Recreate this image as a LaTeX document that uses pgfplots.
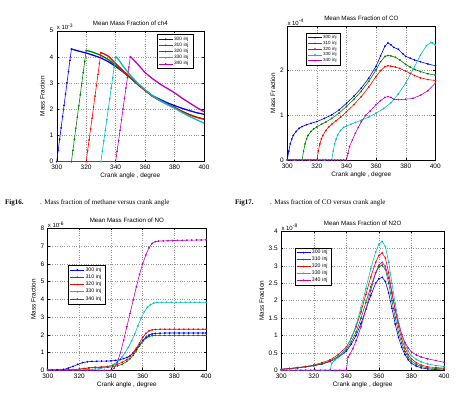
\documentclass[border=0pt]{standalone}
\usepackage{fontspec}
\setmainfont{Liberation Sans}
\newfontfamily\capfont{Liberation Serif}
\usepackage{pgfplots}
\pgfplotsset{compat=1.18}

\definecolor{mblue}{rgb}{0,0,1}
\definecolor{mgreen}{rgb}{0,0.5,0}
\definecolor{mred}{rgb}{1,0,0}
\definecolor{mcyan}{rgb}{0,0.75,0.75}
\definecolor{mmag}{rgb}{0.75,0,0.75}

\pgfplotsset{
  mfig/.style={
    scale only axis,
    xmin=300, xmax=400, xtick={300,320,...,400},
    unbounded coords=jump,
    tick align=inside, major tick length=2pt,
    grid=major, grid style={dotted, black!40, line width=0.4pt},
    axis line style={line width=0.4pt},
    tick style={line width=0.4pt, black},
    /pgf/number format/assume math mode=true,
    tick label style={font=\fontsize{6.5}{7.5}\selectfont},
    xticklabel style={yshift=0pt},
    yticklabel style={xshift=0pt},
    label style={font=\fontsize{6.4}{7.5}\selectfont},
    xlabel style={yshift=3.5pt},
    ylabel style={yshift=-2pt},
    title style={font=\fontsize{6.2}{7.5}\selectfont, yshift=-4pt},
    xlabel={Crank angle , degree}, ylabel={Mass Fraction},
    legend cell align=left,
    legend style={draw=black, line width=0.4pt, fill=white, anchor=north west,
      inner xsep=1.5pt, inner ysep=1.2pt, row sep=-0.8pt,
      nodes={inner sep=1pt, text width=17pt}},
    legend image code/.code={\draw[mark repeat=2,mark phase=2,#1]
      plot coordinates {(0pt,0pt) (7pt,0pt) (14pt,0pt)};},
    every axis plot/.append style={line width=0.6pt, mark size=0.55pt},
  },
  expo/.style={after end axis/.append code={
    \node[anchor=south west, inner sep=0pt, font=\fontsize{6}{7}\selectfont]
      at ([yshift=0.5pt]rel axis cs:0,1) {x 10\textsuperscript{#1}};}},
}

\begin{document}
\begin{tikzpicture}
\useasboundingbox (0pt,0pt) rectangle (456pt,399pt);

% ---------------- methane ----------------
\begin{axis}[mfig, expo={-3}, at={(56.7pt,237.3pt)}, anchor=south west,
  width=147.3pt, height=131pt, ymin=0, ymax=5, ytick={0,1,...,5},
  title={Mean Mass Fraction of ch4},
  legend style={at={(0.679,0.972)}, font=\fontsize{4.8}{5.6}\selectfont}]
\addplot[mblue, line width=1.3pt, forget plot] coordinates {(310,4.30)(312,4.27)(315,4.22)(320,4.15)(325,4.06)(330,3.96)(335,3.82)(340,3.64)(345,3.43)(350,3.20)(355,2.96)(360,2.73)(365,2.52)(370,2.38)(375,2.25)(380,2.14)(385,2.04)(390,1.95)(395,1.87)(400,1.81)};
\addplot[mblue, mark=*] coordinates {(300,0)(301,0.43)(302,0.86)(303,1.29)(304,1.72)(305,2.15)(306,2.58)(307,3.01)(308,3.44)(309,3.87)(310,4.30)};
\addplot[mgreen, line width=1.3pt, forget plot] coordinates {(300,0)(310,0)(315,nan)(320,4.25)(322,4.22)(325,4.17)(330,4.06)(335,3.90)(340,3.68)(345,3.44)(350,3.20)(355,2.95)(360,2.72)(365,2.50)(370,2.34)(375,2.20)(380,2.07)(385,1.93)(390,1.80)(395,1.70)(400,1.63)};
\addplot[mgreen, mark=*] coordinates {(310,0)(311,0.43)(312,0.85)(313,1.28)(314,1.70)(315,2.13)(316,2.55)(317,2.98)(318,3.40)(319,3.83)(320,4.25)};
\addplot[mred, line width=1.3pt, forget plot] coordinates {(300,0)(320,0)(325,nan)(330,4.16)(332,4.12)(335,4.03)(340,3.75)(345,3.48)(350,3.22)(355,2.96)(360,2.72)(365,2.50)(370,2.33)(375,2.19)(380,2.06)(385,1.92)(390,1.79)(395,1.69)(400,1.62)};
\addplot[mred, mark=*] coordinates {(320,0)(321,0.42)(322,0.83)(323,1.25)(324,1.66)(325,2.08)(326,2.50)(327,2.91)(328,3.33)(329,3.74)(330,4.16)};
\addplot[mcyan, line width=1.3pt, forget plot] coordinates {(300,0)(330,0)(335,nan)(340,4.01)(342,3.90)(345,3.65)(350,3.30)(355,3.00)(360,2.75)(365,2.52)(370,2.34)(375,2.18)(380,2.04)(385,1.88)(390,1.73)(395,1.60)(400,1.47)};
\addplot[mcyan, mark=*] coordinates {(330,0)(331,0.40)(332,0.80)(333,1.20)(334,1.60)(335,2.01)(336,2.41)(337,2.81)(338,3.21)(339,3.61)(340,4.01)};
\addplot[mmag, line width=1.3pt, forget plot] coordinates {(300,0)(340,0)(345,nan)(350,4.01)(352,3.90)(355,3.72)(360,3.40)(365,3.17)(370,2.97)(375,2.80)(380,2.63)(385,2.43)(390,2.25)(395,2.07)(400,1.91)};
\addplot[mmag, mark=*] coordinates {(340,0)(341,0.40)(342,0.80)(343,1.20)(344,1.60)(345,2.01)(346,2.41)(347,2.81)(348,3.21)(349,3.61)(350,4.01)};
\legend{300 inj,310 inj,320 inj,330 inj,340 inj}
\end{axis}

% ---------------- CO ----------------
\begin{axis}[mfig, expo={-4}, at={(287.3pt,239pt)}, anchor=south west,
  width=148pt, height=134pt, ymin=0, ymax=3, ytick={0,1,2},
  title={Mean Mass Fraction of CO},
  legend style={at={(0.126,0.948)}, font=\fontsize{4.5}{5.2}\selectfont,
    nodes={inner sep=0.9pt, text width=15pt}}]
\addplot[mblue, mark=*] coordinates {(300,0)(301,0.20)(302,0.36)(303,0.47)(304,0.55)(306,0.64)(308,0.71)(310,0.75)(313,0.79)(316,0.82)(320,0.86)(325,0.93)(330,1.01)(335,1.12)(340,1.27)(345,1.43)(350,1.61)(355,1.83)(360,2.10)(363,2.33)(366,2.55)(368,2.62)(370,2.58)(372,2.52)(375,2.48)(378,2.38)(380,2.32)(383,2.28)(386,2.24)(390,2.20)(395,2.15)(400,2.11)};
\addplot[mgreen, mark=*] coordinates {(300,0)(305,0)(310,0)(311,0.20)(312,0.36)(313,0.47)(314,0.55)(316,0.64)(318,0.70)(320,0.74)(323,0.80)(326,0.85)(330,0.93)(335,1.05)(340,1.20)(345,1.36)(350,1.54)(355,1.76)(360,2.02)(363,2.20)(366,2.32)(368,2.34)(370,2.33)(373,2.30)(376,2.24)(380,2.14)(383,2.08)(386,2.03)(390,1.98)(395,1.93)(400,1.90)};
\addplot[mred, mark=*] coordinates {(300,0)(305,0)(310,0)(315,0)(320,0)(321,0.20)(322,0.36)(323,0.47)(324,0.55)(326,0.66)(328,0.74)(330,0.80)(333,0.88)(336,0.96)(340,1.08)(345,1.24)(350,1.42)(355,1.63)(360,1.87)(363,2.00)(366,2.09)(368,2.11)(370,2.10)(373,2.08)(376,2.05)(380,1.99)(383,1.94)(386,1.89)(390,1.84)(395,1.80)(400,1.78)};
\addplot[mcyan, mark=*] coordinates {(300,0)(305,0)(310,0)(315,0)(320,0)(325,0)(330,0)(331,0.20)(332,0.36)(333,0.47)(334,0.56)(336,0.66)(338,0.73)(340,0.76)(343,0.80)(346,0.84)(350,0.89)(355,0.96)(360,1.05)(365,1.15)(370,1.28)(375,1.48)(380,1.72)(385,2.03)(390,2.35)(394,2.56)(397,2.63)(398,2.62)(400,2.57)};
\addplot[mmag, mark=*] coordinates {(300,0)(302,0)(304,0)(306,0)(308,0)(310,0)(312,0)(314,0)(316,0)(318,0)(320,0)(322,0)(324,0)(326,0)(328,0)(330,0)(332,0)(334,0)(336,0)(338,0)(340,0)(341,0.15)(342,0.30)(344,0.45)(346,0.60)(348,0.73)(350,0.86)(353,1.00)(356,1.10)(360,1.24)(363,1.33)(366,1.40)(368,1.42)(370,1.40)(372,1.36)(375,1.35)(380,1.36)(385,1.38)(390,1.45)(395,1.55)(400,1.72)};
\legend{300 inj,310 inj,320 inj,330 inj,340 inj}
\end{axis}

% ---------------- NO ----------------
\begin{axis}[mfig, expo={-6}, at={(47.7pt,28.7pt)}, anchor=south west,
  width=158.3pt, height=142pt, ymin=0, ymax=8, ytick={0,1,...,8},
  title={Mean Mass Fraction of NO},
  legend style={at={(0.13,0.742)}, font=\fontsize{5.2}{6.2}\selectfont,
    row sep=0pt}]
\addplot[mblue, mark=*] coordinates {(300,0.02)(303,0.02)(306,0.03)(310,0.05)(313,0.12)(316,0.22)(319,0.33)(322,0.43)(325,0.48)(328,0.50)(331,0.51)(334,0.52)(337,0.52)(340,0.53)(343,0.56)(346,0.61)(348,0.66)(350,0.72)(352,0.82)(354,0.98)(356,1.18)(358,1.42)(360,1.66)(362,1.86)(364,1.98)(366,2.05)(368,2.08)(371,2.09)(374,2.10)(377,2.10)(380,2.10)(383,2.10)(386,2.10)(389,2.10)(392,2.10)(395,2.10)(398,2.10)(400,2.10)};
\addplot[mgreen, mark=*] coordinates {(300,0.02)(304,0.02)(308,0.02)(312,0.03)(316,0.04)(320,0.07)(323,0.10)(326,0.13)(330,0.15)(334,0.16)(338,0.17)(341,0.20)(344,0.25)(347,0.34)(350,0.50)(352,0.65)(354,0.85)(356,1.10)(358,1.38)(360,1.62)(362,1.80)(364,1.90)(366,1.95)(368,1.97)(371,1.97)(374,1.97)(377,1.97)(380,1.97)(383,1.97)(386,1.97)(389,1.97)(392,1.97)(395,1.97)(398,1.97)(400,1.97)};
\addplot[mred, mark=*] coordinates {(300,0.02)(304,0.02)(308,0.02)(312,0.03)(316,0.04)(320,0.06)(323,0.10)(326,0.14)(330,0.17)(334,0.19)(338,0.22)(341,0.27)(344,0.34)(347,0.45)(350,0.60)(352,0.78)(354,1.00)(356,1.25)(358,1.55)(360,1.85)(362,2.08)(364,2.22)(366,2.28)(368,2.30)(371,2.31)(374,2.31)(377,2.31)(380,2.31)(383,2.31)(386,2.31)(389,2.31)(392,2.31)(395,2.31)(398,2.31)(400,2.31)};
\addplot[mcyan, mark=*] coordinates {(300,0.02)(304,0.02)(308,0.02)(312,0.02)(316,0.02)(320,0.02)(325,0.04)(330,0.07)(333,0.10)(336,0.15)(339,0.22)(342,0.35)(345,0.55)(347,0.75)(349,1.00)(351,1.30)(353,1.65)(355,2.05)(357,2.50)(359,2.95)(361,3.30)(363,3.55)(365,3.70)(367,3.78)(369,3.82)(372,3.83)(375,3.83)(378,3.83)(381,3.83)(384,3.83)(387,3.83)(390,3.83)(393,3.83)(396,3.83)(400,3.83)};
\addplot[mmag, mark=*] coordinates {(300,0)(304,0)(308,0)(312,0)(316,0)(320,0)(324,0)(328,0)(332,0)(336,0)(340,0.01)(342,0.12)(344,0.45)(346,1.00)(348,1.70)(350,2.45)(352,3.20)(354,3.95)(356,4.70)(358,5.40)(360,6.00)(362,6.50)(364,6.90)(366,7.15)(368,7.25)(370,7.28)(373,7.29)(376,7.30)(379,7.31)(382,7.32)(385,7.32)(388,7.33)(391,7.33)(394,7.34)(397,7.34)(400,7.35)};
\legend{300 inj,310 inj,320 inj,330 inj,340 inj}
\end{axis}

% ---------------- N2O ----------------
\begin{axis}[mfig, expo={-8}, at={(281.3pt,28.7pt)}, anchor=south west,
  width=162.7pt, height=139.3pt, ymin=0, ymax=4, ytick={0,0.5,...,4},
  title={Mean Mass Fraction of N2O},
  legend style={at={(0.082,0.88)}, font=\fontsize{5.2}{6.2}\selectfont,
    row sep=-0.4pt}]
\addplot[mblue, mark=*] coordinates {(300,0.03)(305,0.05)(310,0.07)(315,0.10)(320,0.13)(325,0.18)(330,0.25)(335,0.37)(340,0.55)(343,0.75)(346,1.00)(349,1.35)(352,1.75)(355,2.15)(358,2.50)(360,2.63)(362,2.67)(364,2.55)(366,2.22)(368,1.78)(370,1.33)(372,0.95)(374,0.66)(376,0.45)(378,0.30)(380,0.20)(383,0.12)(386,0.07)(390,0.04)(395,0.02)(400,0.01)};
\addplot[mgreen, mark=*] coordinates {(300,0.03)(305,0.05)(310,0.07)(315,0.10)(320,0.14)(325,0.19)(330,0.27)(335,0.40)(340,0.60)(343,0.82)(346,1.10)(349,1.50)(352,1.95)(355,2.40)(358,2.80)(360,2.97)(362,3.02)(364,2.90)(366,2.50)(368,2.00)(370,1.52)(372,1.10)(374,0.78)(376,0.54)(378,0.37)(380,0.26)(383,0.17)(386,0.11)(390,0.07)(395,0.05)(400,0.04)};
\addplot[mred, mark=*] coordinates {(300,0.03)(305,0.05)(310,0.08)(315,0.11)(320,0.15)(325,0.22)(330,0.30)(335,0.45)(340,0.67)(343,0.92)(346,1.25)(349,1.68)(352,2.18)(355,2.68)(358,3.10)(360,3.30)(362,3.37)(364,3.22)(366,2.80)(368,2.25)(370,1.72)(372,1.26)(374,0.90)(376,0.64)(378,0.45)(380,0.33)(383,0.22)(386,0.15)(390,0.10)(395,0.08)(400,0.06)};
\addplot[mcyan, mark=*] coordinates {(300,0)(305,0)(310,0)(315,0)(320,0)(325,0)(330,0)(331,0.20)(333,0.30)(335,0.38)(338,0.52)(340,0.65)(343,0.92)(346,1.30)(349,1.80)(352,2.35)(355,2.92)(358,3.40)(360,3.62)(362,3.70)(364,3.55)(366,3.10)(368,2.50)(370,1.92)(372,1.42)(374,1.03)(376,0.75)(378,0.55)(380,0.42)(383,0.31)(386,0.24)(390,0.18)(395,0.14)(400,0.11)};
\addplot[mmag, mark=*] coordinates {(300,0)(303,0)(306,0)(309,0)(312,0)(315,0)(318,0)(321,0)(324,0)(327,0)(330,0)(333,0)(336,0)(340,0)(341,0.38)(342,0.45)(344,0.62)(346,0.85)(349,1.25)(352,1.75)(355,2.30)(358,2.80)(360,3.02)(362,3.10)(364,2.98)(366,2.65)(368,2.20)(370,1.75)(372,1.35)(374,1.03)(376,0.80)(378,0.64)(380,0.53)(383,0.44)(386,0.38)(390,0.33)(395,0.28)(400,0.23)};
\legend{300 inj,310 inj,320 inj,330 inj,340 inj}
\end{axis}

% captions
\node[anchor=west, inner sep=0pt, font=\capfont\bfseries\fontsize{7}{8}\selectfont] at (5pt,196pt) {Fig16.};
\node[anchor=west, inner sep=0pt, font=\capfont\fontsize{7}{8}\selectfont] at (40pt,196pt) {. Mass fraction of methane versus crank angle};
\node[anchor=west, inner sep=0pt, font=\capfont\bfseries\fontsize{7}{8}\selectfont] at (235pt,196pt) {Fig17.};
\node[anchor=west, inner sep=0pt, font=\capfont\fontsize{7}{8}\selectfont] at (270pt,196pt) {. Mass fraction of CO versus crank angle};
\end{tikzpicture}
\end{document}
